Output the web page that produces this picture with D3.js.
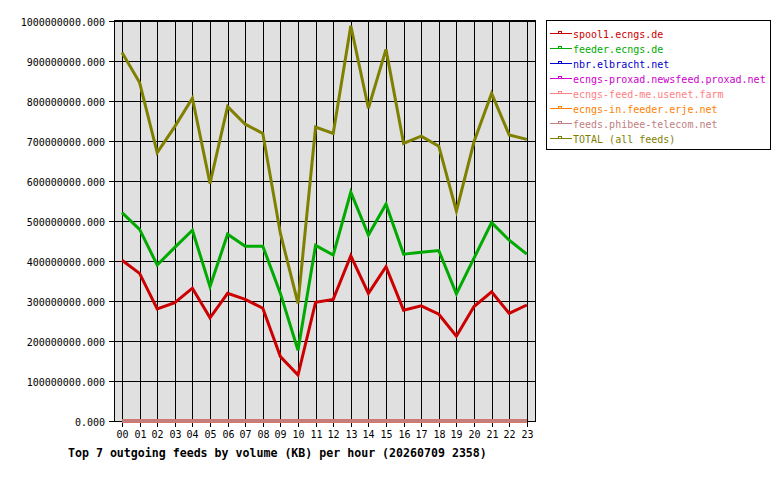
<!DOCTYPE html>
<meta charset="utf-8">
<script src="https://d3js.org/d3.v7.min.js"></script>
<style>
  body { margin: 0; background: #fff; }
  text { font-family: "DejaVu Sans Mono", monospace; }
</style>
<div id="page"></div>
<script>
  // hours on the x axis
  var hours = ["00","01","02","03","04","05","06","07","08","09","10","11",
               "12","13","14","15","16","17","18","19","20","21","22","23"];

  // volume per hour (KB)
  var spool1 = [402e6,369e6,280e6,296e6,332e6,258e6,319e6,304e6,282e6,161e6,115e6,297e6,
                304e6,413e6,319e6,386e6,277e6,288e6,267e6,212e6,286e6,323e6,269e6,290e6];
  var feeder = [521e6,479e6,390e6,434e6,477e6,336e6,467e6,437e6,437e6,319e6,177e6,439e6,
                415e6,572e6,465e6,542e6,417e6,422e6,426e6,318e6,407e6,496e6,452e6,417e6];
  var nbr    = [0,0,0,0,0,0,0,0,0,0,0,0,0,0,0,0,0,0,0,0,0,0,0,0];
  var proxad = [0,0,0,0,0,0,0,0,0,0,0,0,0,0,0,0,0,0,0,0,0,0,0,0];
  var feedme = [0,0,0,0,0,0,0,0,0,0,0,0,0,0,0,0,0,0,0,0,0,0,0,0];
  var erje   = [0,0,0,0,0,0,0,0,0,0,0,0,0,0,0,0,0,0,0,0,0,0,0,0];
  var phibee = [0,0,0,0,0,0,0,0,0,0,0,0,0,0,0,0,0,0,0,0,0,0,0,0];
  var total  = [921e6,846e6,671e6,736e6,807e6,594e6,786e6,742e6,719e6,469e6,294e6,735e6,
                719e6,988e6,782e6,929e6,694e6,712e6,687e6,525e6,698e6,819e6,715e6,704e6];

  var feedNames = ["spool1.ecngs.de","feeder.ecngs.de","nbr.elbracht.net",
                   "ecngs-proxad.newsfeed.proxad.net","ecngs-feed-me.usenet.farm",
                   "ecngs-in.feeder.erje.net","feeds.phibee-telecom.net","TOTAL (all feeds)"];
  var feedColors = ["#cc0000","#00aa00","#0000cc","#cc00cc","#ff8080","#ff8000","#c08080","#808000"];
  var yTicks = [0,1e8,2e8,3e8,4e8,5e8,6e8,7e8,8e8,9e8,1e9];

  var series = [spool1, feeder, nbr, proxad, feedme, erje, phibee, total];

  var svg = d3.select("#page").append("svg")
    .attr("width", 780).attr("height", 480);

  var x = d3.scaleLinear().domain([0, 23]).range([122, 526.8]);
  var y = d3.scaleLinear().domain([0, 1e9]).range([421, 21]);

  // plot background
  svg.append("rect")
    .attr("x", 114).attr("y", 20)
    .attr("width", 422).attr("height", 402)
    .attr("fill", "#e0e0e0");

  // horizontal grid + y labels
  var gy = svg.append("g").attr("shape-rendering", "crispEdges");
  yTicks.forEach(function (t) {
    var yy = Math.round(y(t)) + 0.5;
    gy.append("line")
      .attr("x1", 109).attr("x2", 536)
      .attr("y1", yy).attr("y2", yy)
      .attr("stroke", "#000").attr("stroke-width", 1);
    gy.append("text")
      .attr("x", 105).attr("y", yy + 4)
      .attr("text-anchor", "end")
      .attr("font-size", "10px")
      .text(d3.format(".3f")(t));
  });

  // vertical grid + x labels
  var gx = svg.append("g").attr("shape-rendering", "crispEdges");
  hours.forEach(function (h, i) {
    var xx = Math.round(x(i)) + 0.5;
    gx.append("line")
      .attr("x1", xx).attr("x2", xx)
      .attr("y1", 20).attr("y2", 427)
      .attr("stroke", "#000").attr("stroke-width", 1);
    gx.append("text")
      .attr("x", xx).attr("y", 438)
      .attr("text-anchor", "middle")
      .attr("font-size", "10px")
      .text(h);
  });

  // frame
  svg.append("rect")
    .attr("x", 114.5).attr("y", 20.5)
    .attr("width", 421).attr("height", 401)
    .attr("fill", "none").attr("stroke", "#000")
    .attr("shape-rendering", "crispEdges");

  // lines
  var line = d3.line()
    .x(function (d, i) { return x(i); })
    .y(function (d) { return y(d); });

  series.forEach(function (s, k) {
    svg.append("path")
      .datum(s)
      .attr("d", line)
      .attr("fill", "none")
      .attr("stroke", feedColors[k])
      .attr("stroke-width", 3)
      .attr("stroke-linejoin", "miter");
  });

  // legend
  var lg = svg.append("g").attr("shape-rendering", "crispEdges");
  lg.append("rect")
    .attr("x", 546.5).attr("y", 20.5)
    .attr("width", 224).attr("height", 129)
    .attr("fill", "#fff").attr("stroke", "#000");
  feedNames.forEach(function (n, k) {
    var ry = 33.5 + k * 15;
    lg.append("line")
      .attr("x1", 550).attr("x2", 572)
      .attr("y1", ry).attr("y2", ry)
      .attr("stroke", feedColors[k]);
    lg.append("rect")
      .attr("x", 558.5).attr("y", ry - 2)
      .attr("width", 3).attr("height", 2)
      .attr("fill", "none").attr("stroke", feedColors[k]);
    lg.append("text")
      .attr("x", 573).attr("y", ry + 4)
      .attr("font-size", "10px")
      .attr("fill", feedColors[k])
      .text(n);
  });

  // title
  svg.append("text")
    .attr("x", 68).attr("y", 457)
    .attr("font-size", "11.6px")
    .attr("font-weight", "bold")
    .text("Top 7 outgoing feeds by volume (KB) per hour (20260709 2358)");
</script>
